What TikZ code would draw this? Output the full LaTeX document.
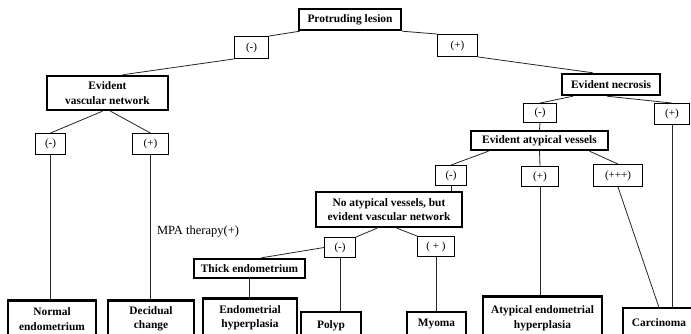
\documentclass[tikz,border=0pt]{standalone}
\usepackage{fontspec}
\setmainfont{Liberation Serif}
\usetikzlibrary{calc}
\tikzset{
  thickbox/.style={draw, line width=2.4pt, inner sep=0pt, align=center,
    font=\bfseries\fontsize{11.4}{14.5}\selectfont},
  signbox/.style={draw, line width=0.9pt, inner sep=0pt,
    font=\fontsize{11}{13}\selectfont},
  conn/.style={line width=0.8pt, draw=black!85},
}
\begin{document}
\begin{tikzpicture}[x=1pt,y=-1pt]
\useasboundingbox (0,0) rectangle (691,334);
\clip (0,0) rectangle (691,334);
\fill[white] (0,0) rectangle (691,334);

% decision nodes
\node[thickbox, minimum width=102, minimum height=21] (root) at (350,19.5) {Protruding lesion};
\node[signbox, minimum width=34, minimum height=22] (rm) at (251.5,47.5) {(-)};
\node[signbox, minimum width=40, minimum height=22] (rp) at (457.5,45.5) {(+)};
\node[thickbox, minimum width=121, minimum height=34] (evn) at (107.5,93) {Evident\\vascular network};
\node[signbox, minimum width=30, minimum height=21] (em) at (50.5,144) {(-)};
\node[signbox, minimum width=36, minimum height=21] (ep) at (150.5,144) {(+)};
\node[thickbox, minimum width=98, minimum height=21] (nec) at (611,84.5) {Evident necrosis};
\node[signbox, minimum width=33, minimum height=19] (nm) at (540,113) {(-)};
\node[signbox, minimum width=35, minimum height=21] (np) at (672,114) {(+)};
\node[thickbox, minimum width=137, minimum height=19] (eav) at (539.5,140.5) {Evident atypical vessels};
\node[signbox, minimum width=31, minimum height=20] (am) at (451,175.5) {(-)};
\node[signbox, minimum width=37, minimum height=20] (ap) at (540,176.5) {(+)};
\node[signbox, minimum width=49, minimum height=22] (app) at (618,175.5) {(+++)};
\node[thickbox, minimum width=146, minimum height=35] (nav) at (389,209.5) {No atypical vessels, but\\evident vascular network};
\node[signbox, minimum width=31, minimum height=20] (xm) at (340,247.5) {(-)};
\node[signbox, minimum width=37, minimum height=20] (xp) at (436,246.5) {( + )};
\node[thickbox, minimum width=111, minimum height=19] (thick) at (249.5,268.5) {Thick endometrium};
\node[font=\fontsize{12.5}{14}\selectfont] (mpa) at (198,232) {MPA therapy(+)};

% outcome nodes
\node[thickbox, minimum width=88, minimum height=37] (normal) at (52,319) {Normal\\endometrium};
\node[thickbox, minimum width=86, minimum height=37] (decid) at (151,319) {Decidual\\change};
\node[thickbox, minimum width=94, minimum height=39] (endo) at (250,318) {Endometrial\\hyperplasia};
\node[thickbox, minimum width=60, anchor=north, text height=16pt, text depth=20pt] (polyp) at (331,311) {Polyp};
\node[thickbox, minimum width=59, anchor=north, text height=14pt, text depth=20pt] (myoma) at (436.5,311) {Myoma};
\node[thickbox, minimum width=119, minimum height=44] (atyp) at (542.5,318.5) {Atypical endometrial\\hyperplasia};
\node[thickbox, minimum width=72, anchor=north, text height=18pt, text depth=20pt] (carc) at (659,307) {Carcinoma};

% connectors
\draw[conn] ($(root.south west)+(2,0)$) -- (rm.north east);
\draw[conn] (rm.south west) -- ($(evn.north)+(15,0)$);
\draw[conn] (root.south east) -- (rp.north west);
\draw[conn] (rp.south east) -- ($(nec.north west)+(32,0)$);
\draw[conn] ($(evn.south)+(-5,0)$) -- (em.north);
\draw[conn] ($(evn.south)+(3,0)$) -- (ep.north);
\draw[conn] (em.south) -- (em.south |- normal.north);
\draw[conn] (ep.south) -- (ep.south |- decid.north);
\draw[conn] ($(nec.south)+(-38,0)$) -- (nm.north);
\draw[conn] ($(nec.south)+(-4,0)$) -- (np.north);
\draw[conn] (nm.south) -- (eav.north);
\draw[conn] ($(eav.south)+(-51,0)$) -- (am.north);
\draw[conn] (eav.south) -- (ap.north);
\draw[conn] ($(eav.south)+(50,0)$) -- (app.north);
\draw[conn] (am.south) -- (am.south |- nav.north);
\draw[conn] ($(nav.south)+(-12,0)$) -- (xm.north east);
\draw[conn] ($(nav.south)+(8,0)$) -- (xp.north west);
\draw[conn] (xm.west) -- ($(thick.north)+(12,0)$);
\draw[conn] (xm.south) -- (xm.south |- polyp.north);
\draw[conn] (xp.south) -- (xp.south |- myoma.north);
\draw[conn] (thick.south) -- (thick.south |- endo.north);
\draw[conn] (ap.south) -- (ap.south |- atyp.north);
\draw[conn] (app.south) -- ($(carc.north west)+(37,0)$);
\draw[conn] (np.south) -- (np.south |- carc.north);
\end{tikzpicture}
\end{document}
